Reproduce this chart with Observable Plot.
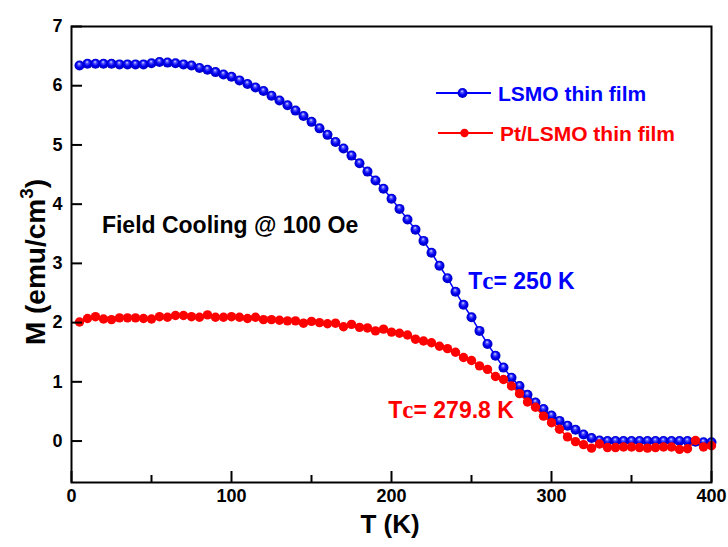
<!DOCTYPE html>
<html><head><meta charset="utf-8">
<script src="https://cdn.jsdelivr.net/npm/d3@7"></script>
<script src="https://cdn.jsdelivr.net/npm/@observablehq/plot@0.6"></script>
<style>
body{margin:0;background:#fff;}
#chart{width:728px;height:547px;}
</style></head><body><div id="chart"></div>
<script>
// ---- data ----
const temperature = [5,10,15,20,25,30,35,40,45,50,55,60,65,70,75,80,85,90,95,100,
  105,110,115,120,125,130,135,140,145,150,155,160,165,170,175,180,185,190,195,200,
  205,210,215,220,225,230,235,240,245,250,255,260,265,270,275,280,285,290,295,300,
  305,310,315,320,325,330,335,340,345,350,355,360,365,370,375,380,385,390,395,400];
const lsmoM = [6.34,6.37,6.37,6.37,6.37,6.36,6.36,6.36,6.36,6.38,6.40,6.39,6.38,6.36,6.34,6.30,6.27,6.23,6.19,6.15,
  6.09,6.03,5.97,5.91,5.83,5.75,5.67,5.58,5.49,5.39,5.28,5.17,5.05,4.94,4.82,4.69,4.55,4.40,4.26,4.09,
  3.92,3.74,3.57,3.38,3.18,2.96,2.75,2.52,2.30,2.09,1.86,1.64,1.44,1.24,1.07,0.93,0.78,0.65,0.54,0.43,
  0.34,0.26,0.19,0.11,0.05,0.01,0.00,0.00,0.00,0.00,0.00,0.00,0.00,0.00,0.00,0.00,0.00,-0.01,-0.02,-0.02];
const ptLsmoM = [2.01,2.07,2.10,2.06,2.05,2.08,2.08,2.08,2.07,2.06,2.10,2.09,2.12,2.12,2.10,2.09,2.13,2.09,2.09,2.10,
  2.09,2.07,2.09,2.05,2.05,2.04,2.03,2.03,1.99,2.02,2.00,1.98,1.99,1.93,1.97,1.92,1.91,1.86,1.89,1.84,
  1.82,1.79,1.72,1.69,1.66,1.60,1.56,1.50,1.41,1.36,1.27,1.21,1.09,1.04,0.93,0.80,0.66,0.57,0.42,0.31,
  0.20,0.07,-0.01,-0.06,-0.12,-0.05,-0.11,-0.11,-0.10,-0.10,-0.11,-0.12,-0.11,-0.10,-0.10,-0.14,-0.13,0.01,-0.10,-0.08];
const seriesNames = ["LSMO thin film", "Pt/LSMO thin film"];
const seriesColors = ["#0000ff", "#ff0000"];
const xTicks = [0,100,200,300,400];
const xMinorTicks = [50,150,250,350];
const yTicks = [0,1,2,3,4,5,6,7];
const xTitle = "T (K)";
const yTitle = ["M (emu/cm", "3", ")"];
const annotations = [
  {text: "Field Cooling @ 100 Oe", x: 19, y: 3.63, color: "#000000"},
  {text: "Tc= 250 K", x: 248, y: 2.70, color: "#0000ff"},
  {text: "Tc= 279.8 K", x: 198, y: 0.51, color: "#ff0000"}
];

const lsmo = temperature.map((t, i) => ({T: t, M: lsmoM[i]}));
const ptLsmo = temperature.map((t, i) => ({T: t, M: ptLsmoM[i]}));

// ---- layout ----
const W = 728, H = 547, mL = 71, mR = 17, mT = 26, mB = 65;
const innerW = W - mL - mR, innerH = H - mT - mB;
const font = "'Liberation Sans', Arial, Helvetica, sans-serif";

const defs = () => {
  const d = d3.create("svg:defs");
  const g = d.append("radialGradient").attr("id", "ball")
    .attr("cx", "50%").attr("cy", "50%").attr("r", "55%").attr("fx", "45%").attr("fy", "30%");
  g.append("stop").attr("offset", "0%").attr("stop-color", "#eef0ff");
  g.append("stop").attr("offset", "22%").attr("stop-color", "#5a5aff");
  g.append("stop").attr("offset", "55%").attr("stop-color", "#0000f2");
  g.append("stop").attr("offset", "100%").attr("stop-color", "#0000b8");
  return d.node();
};

const plot = Plot.plot({
  width: W, height: H,
  marginLeft: mL, marginRight: mR, marginTop: mT, marginBottom: mB,
  style: {fontFamily: font, fontWeight: "bold", fontSize: "18px", color: "black", background: "white"},
  x: {domain: [0, 400], label: null},
  y: {domain: [-0.7, 7], label: null},
  color: {type: "identity"},
  marks: [
    defs,
    Plot.line(lsmo, {x: "T", y: "M", stroke: seriesColors[0], strokeWidth: 1.5}),
    Plot.dot(lsmo, {x: "T", y: "M", r: 5, fill: "url(#ball)", stroke: "none"}),
    Plot.line(ptLsmo, {x: "T", y: "M", stroke: seriesColors[1], strokeWidth: 1.5}),
    Plot.dot(ptLsmo, {x: "T", y: "M", r: 4.7, fill: seriesColors[1], stroke: "none"}),
    Plot.text(annotations, {x: "x", y: "y", text: "text", fill: "color", textAnchor: "start",
      fontSize: 23, fontWeight: "bold"}),
    Plot.axisX(xTicks, {tickSize: 0, tickPadding: 7, fontSize: 18, fontWeight: "bold", tickFormat: d => String(d)}),
    Plot.axisY(yTicks, {tickSize: 0, tickPadding: 9, fontSize: 18, fontWeight: "bold", tickFormat: d => String(d)}),
    Plot.tickX(xTicks, {x: d => d, insetTop: innerH - 11, strokeWidth: 2, stroke: "black"}),
    Plot.tickX(xMinorTicks, {x: d => d, insetTop: innerH - 7, strokeWidth: 2, stroke: "black"}),
    Plot.tickY(yTicks, {y: d => d, insetRight: innerW - 11, strokeWidth: 2, stroke: "black"}),
    Plot.frame({stroke: "black", strokeWidth: 2})
  ]
});

const svg = d3.select(plot);

// "Tc" with a serif c, as in the reference
svg.selectAll("text").each(function() {
  const t = this.textContent;
  if (t.startsWith("Tc=")) {
    const s = d3.select(this);
    s.text(null);
    s.append("tspan").text("T");
    s.append("tspan").attr("font-family", "'Liberation Serif', 'Times New Roman', serif").attr("font-size", 25).text("c");
    s.append("tspan").text(t.slice(2));
  }
});

// axis titles
svg.append("text")
  .attr("x", 390).attr("y", 533)
  .attr("text-anchor", "middle").attr("font-family", font).attr("font-weight", "bold")
  .attr("font-size", 26).attr("fill", "black").text(xTitle);
const yt = svg.append("text")
  .attr("transform", `translate(45,262) rotate(-90)`)
  .attr("text-anchor", "middle").attr("font-family", font).attr("font-weight", "bold")
  .attr("font-size", 28).attr("fill", "black");
yt.append("tspan").text(yTitle[0]);
yt.append("tspan").attr("font-size", 19).attr("dy", -12).text(yTitle[1]);
yt.append("tspan").attr("dy", 12).text(yTitle[2]);

// legend
const legendRows = [
  {x1: 436, x2: 491, y: 93, ball: true},
  {x1: 438, x2: 493, y: 133, ball: false}
];
legendRows.forEach((row, i) => {
  const g = svg.append("g");
  g.append("line").attr("x1", row.x1).attr("x2", row.x2).attr("y1", row.y).attr("y2", row.y)
    .attr("stroke", seriesColors[i]).attr("stroke-width", 2);
  g.append("circle").attr("cx", (row.x1 + row.x2) / 2 - 1).attr("cy", row.y)
    .attr("r", row.ball ? 4.9 : 4.2).attr("fill", row.ball ? "url(#ball)" : seriesColors[i]);
  g.append("text").attr("x", row.x2 + 7).attr("y", row.y).attr("dy", "0.36em")
    .attr("text-anchor", "start")
    .attr("font-family", font).attr("font-weight", "bold").attr("font-size", 21)
    .attr("fill", seriesColors[i]).text(seriesNames[i]);
});

document.getElementById("chart").append(plot);
</script>
</body></html>
